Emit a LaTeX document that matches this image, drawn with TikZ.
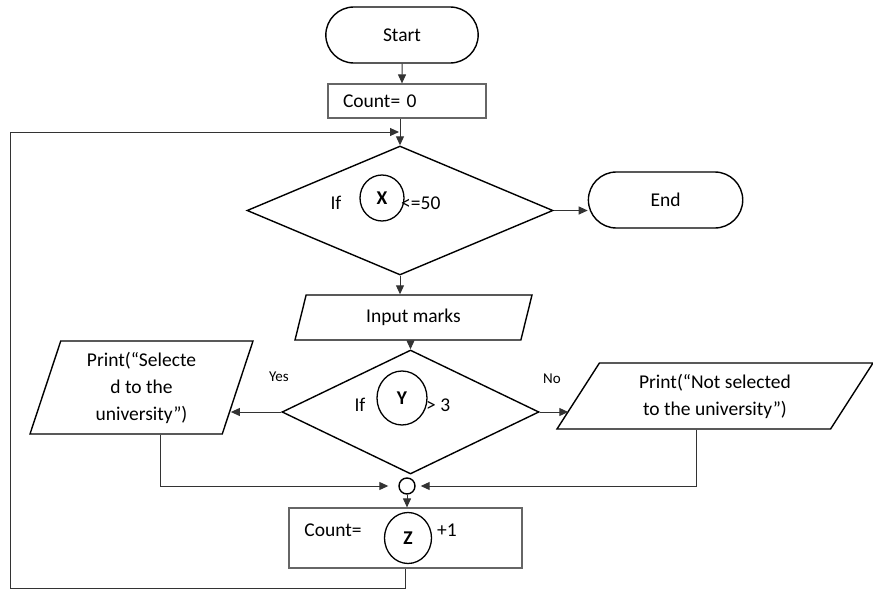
\documentclass[tikz,border=0pt]{standalone}
\usepackage{fontspec}
\setmainfont{Carlito}
\usetikzlibrary{shapes.geometric,shapes.misc,positioning,arrows.meta,calc}
\newcommand{\flowfont}{\fontsize{19.5pt}{27pt}\selectfont}

\begin{document}
\begin{tikzpicture}[x=1pt,y=-1pt,
    every node/.style={font=\flowfont},
    terminal/.style={rounded rectangle, draw, line width=1.4pt, minimum width=159pt, minimum height=56pt},
    procbox/.style={rectangle, draw=black!60, line width=1.2pt, inner sep=0pt},
    decision/.style={diamond, draw, line width=1.4pt, inner sep=0pt},
    iobox/.style={trapezium, trapezium stretches body, draw, line width=1.4pt, inner sep=0pt, align=center},
    varcirc/.style={ellipse, draw, line width=1.3pt, inner sep=0pt, font=\flowfont\bfseries},
    flow/.style={-{Triangle[length=9pt,width=8pt]}, line width=1pt, draw=black!80},
    tag/.style={inner sep=0pt},
    small/.style={inner sep=0pt, font=\fontsize{15pt}{18pt}\selectfont},
    ]
        \useasboundingbox (0,0) rectangle (873,597);

        % Nodes
        \node[terminal] (st) at (402,35) {Start};
        \node[procbox, minimum width=158pt, minimum height=34pt, text width=128pt, inner xsep=15pt, align=left] (c0) at (407,101) {Count= 0};

        \node[decision, minimum width=306pt, minimum height=129pt] (dx) at (400,210.5) {};
        \node[varcirc, minimum width=44pt, minimum height=46pt] (vx) at (382,198) {X};
        \node[tag] (ifx) at (336,203) {If};
        \node[tag, anchor=west] (cmpx) at (401,203) {<=50};
        \node[terminal, minimum width=161pt, right=34pt of dx, yshift=10.5pt] (en) {End};

        \node[iobox, trapezium left angle=56.3, trapezium right angle=123.7, minimum width=237pt, minimum height=45pt] (im) at (413.5,317.5) {Input marks};

        \node[decision, minimum width=257pt, minimum height=124pt] (dy) at (410.5,412) {};
        \node[varcirc, minimum width=50pt, minimum height=54pt] (vy) at (402,398) {Y};
        \node[tag] (ify) at (360,405) {If};
        \node[tag, anchor=west] (cmpy) at (426,405) {> 3};
        \node[small] (yes) at (279,377) {Yes};
        \node[small] (no) at (552,379) {No};

        \node[iobox, trapezium left angle=66.7, trapezium right angle=113.3, minimum width=223pt, minimum height=93pt] (lp) at (141.5,387.5) {Print(“Selecte\\d to the\\university”)};
        \node[iobox, trapezium left angle=46.3, trapezium right angle=133.7, minimum width=316pt, minimum height=66pt] (rp) at (715,396) {Print(“Not selected\\to the university”)};

        \node[circle, draw, line width=1.4pt, minimum size=16pt, inner sep=0pt] (mg) at (407,486) {};
        \node[procbox, minimum width=233pt, minimum height=60pt] (cz) at (405.5,538) {};
        \node[varcirc, minimum width=47pt, minimum height=51pt] (vz) at (408,538) {Z};
        \node[tag] (cnt) at (333,530) {Count=};
        \node[tag] (inc) at (447,530) {+1};

        \coordinate (lpb) at (10,588);
        \coordinate (lpt) at (10,132);
        \coordinate (lpin) at ($(lp.top right corner)!0.74!(lp.bottom right corner)$);
        \coordinate (rpin) at ($(rp.top left corner)!0.71!(rp.bottom left corner)$);
        \coordinate (lpout) at ($(lp.bottom left corner)!0.68!(lp.bottom right corner)$);
        \coordinate (rpout) at ($(rp.bottom left corner)!0.51!(rp.bottom right corner)$);

        % Edges
        \draw[flow] (st) -- (st |- c0.north);
        \draw[flow] (c0.south -| dx.north) -- (dx.north);
        \draw[flow] (dx.east) -- (dx.east -| en.west);
        \draw[flow] (dx.south) -- (dx.south |- im.north);
        \draw[flow] (im.south -| dy.north) -- (dy.north);
        \draw[flow] (dy.west) -- (dy.west -| lpin);
        \draw[flow] (dy.east) -- (dy.east -| rpin);
        \draw[flow, shorten >=10pt] (lpout) |- (mg.west);
        \draw[flow, shorten >=5pt] (rpout) |- (mg.east);
        \draw[flow] (mg.south) -- (mg.south |- cz.north);
        \draw[flow, shorten >=1pt] (cz.south) |- (lpb) -- (lpt) -- (lpt -| dx.north);
\end{tikzpicture}
\end{document}
